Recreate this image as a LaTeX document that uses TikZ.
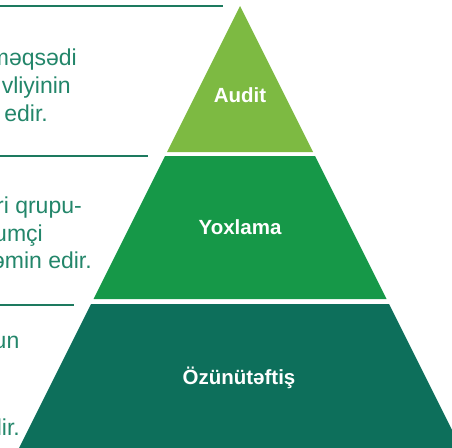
\documentclass[tikz,border=0pt]{standalone}
\usepackage{fontspec}
\setmainfont{Liberation Sans}
\definecolor{auditgreen}{HTML}{7DBA42}
\definecolor{checkgreen}{HTML}{169848}
\definecolor{selfgreen}{HTML}{0D6F5B}
\definecolor{rulegreen}{HTML}{1D7A5F}
\definecolor{txtgreen}{HTML}{23866A}
\tikzset{
  lbl/.style={text=white, font=\bfseries\fontsize{20.5}{24}\selectfont, inner sep=0pt, anchor=base},
  desc/.style={text=txtgreen, font=\fontsize{23}{28}\selectfont, inner sep=0pt, anchor=base east},
  rulel/.style={draw=rulegreen, line width=1.5pt}
}
\begin{document}
\begin{tikzpicture}[x=1pt,y=-1pt]
\useasboundingbox (0,0) rectangle (452,447);
\clip (0,0) rectangle (452,447);
% pyramid tiers
\fill[auditgreen] (240,6) -- (313,152) -- (167,152) -- cycle;
\fill[checkgreen] (165,156) -- (315,156) -- (386.5,299) -- (93.5,299) -- cycle;
\fill[selfgreen] (91,304) -- (389,304) -- (468,462) -- (12,462) -- cycle;
% tier labels
\node[lbl] (audit) at (240,102) {Audit};
\node[lbl] (yox) at (240,234) {Yoxlama};
\node[lbl] (ozu) at (239,384) {Özünütəftiş};
% rules
\coordinate (r1a) at (0,6);   \coordinate (r1b) at (223,6);
\coordinate (r2a) at (0,156); \coordinate (r2b) at (148,156);
\coordinate (r3a) at (0,305); \coordinate (r3b) at (74,305);
\draw[rulel] (r1a) -- (r1b);
\draw[rulel] (r2a) -- (r2b);
\draw[rulel] (r3a) -- (r3b);
% description texts (cut at left edge)
\node[desc] (d11) at (77,65) {məqsədi};
\node[desc] (d12) at (71,93) {vliyinin};
\node[desc] (d13) at (48,121) {edir.};
\node[desc] (d21) at (82,213) {ri qrupu-};
\node[desc] (d22) at (43,241) {umçi};
\node[desc] (d23) at (92,268) {əmin edir.};
\node[desc] (d31) at (19.5,348) {un};
\node[desc] (d32) at (20,435) {lir.};
\end{tikzpicture}
\end{document}
